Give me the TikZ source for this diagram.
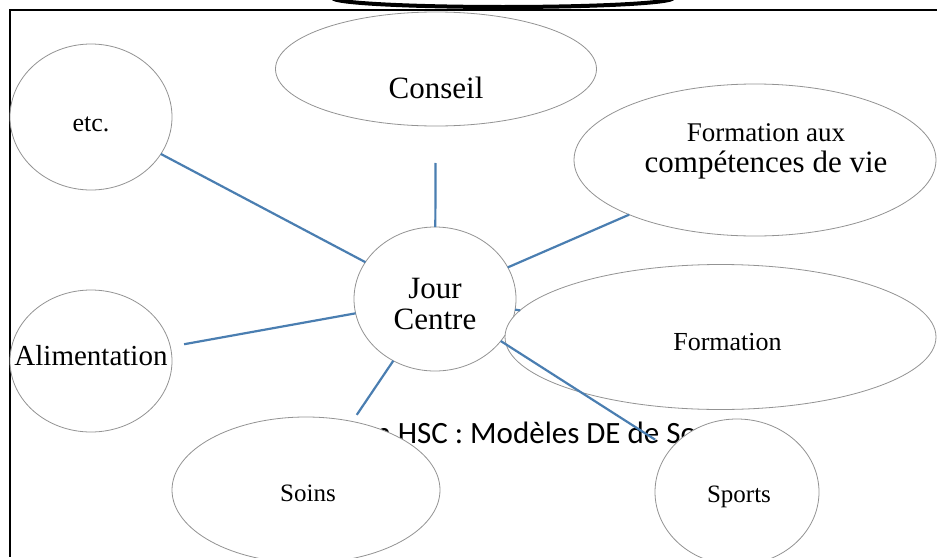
\documentclass[tikz,border=0pt]{standalone}
\usepackage{fontspec}
\setmainfont{Liberation Serif}
\newfontfamily\calfont{Carlito}
\usetikzlibrary{shapes.geometric,calc}
\definecolor{linkblue}{RGB}{74,126,177}
\newcommand{\fs}[1]{\fontsize{#1}{#1}\selectfont}
\tikzset{
bubble/.style={ellipse,draw=gray!85,fill=white,line width=0.8pt,inner sep=0pt,outer sep=0pt},
link/.style={draw=linkblue,line width=2.2pt},
}

\begin{document}
\begin{tikzpicture}[x=1pt,y=-1pt]
        \useasboundingbox (0,0) rectangle (937,557);
        \clip (0,0) rectangle (937,557);

        % Frame and the edge of the shape above
        \draw[line width=2pt] (937,10) -- (10,10) -- (10,557);
        \draw[line width=4pt] (503,-2) ellipse [x radius=170, y radius=9];

        % Title text behind the bubbles
        \node[anchor=base west,font=\calfont\fs{31},inner sep=0pt] (title) at (358,443) {on HSC : Modèles DE de So};

        % Bubbles
        \node[bubble,minimum width=162,minimum height=146,
        label={[font=\fs{26},yshift=-7pt]center:etc.}] (etc) at (91,117) {};
        \node[bubble,minimum width=321,minimum height=114,
        label={[font=\fs{31},yshift=-19pt]center:Conseil}] (conseil) at (436,69) {};
        \node[bubble,minimum width=362,minimum height=152,
        label={[font=\fs{31},align=center,xshift=11pt,yshift=9pt]center:{\fontsize{27}{31}\selectfont Formation aux}\\compétences de vie}] (vie) at (755,160) {};
        \node[bubble,minimum width=162,minimum height=144,
        label={[font=\fs{31},align=center,yshift=-5pt]center:Jour\\Centre}] (jour) at (435,299) {};
        \node[bubble,minimum width=431,minimum height=145,
        label={[font=\fs{26},xshift=7pt,yshift=-5pt]center:Formation}] (formation) at (720.5,337) {};
        \node[bubble,minimum width=162,minimum height=142,
        label={[font=\fs{29},yshift=5pt]center:Alimentation}] (alim) at (91,361) {};
        \node[bubble,minimum width=268,minimum height=146,
        label={[font=\fs{25},xshift=2pt,yshift=-3pt]center:Soins}] (soins) at (306,490) {};
        \node[bubble,minimum width=164,minimum height=146,
        label={[font=\fs{25},xshift=2pt,yshift=-5pt]center:Sports}] (sports) at (737,492) {};

        % Links
        \draw[link] (jour) -- (etc);
        \draw[link,shorten >=37pt] (jour) -- (conseil);
        \draw[link] (jour) -- (vie);
        \draw[link,shorten >=14pt] (jour) -- (alim);
        \draw[link] (jour) -- (formation);
        \draw[link,shorten >=8pt] (jour) -- (soins);
        \draw[link,shorten >=18pt] (jour) -- (sports);

\end{tikzpicture}
\end{document}
